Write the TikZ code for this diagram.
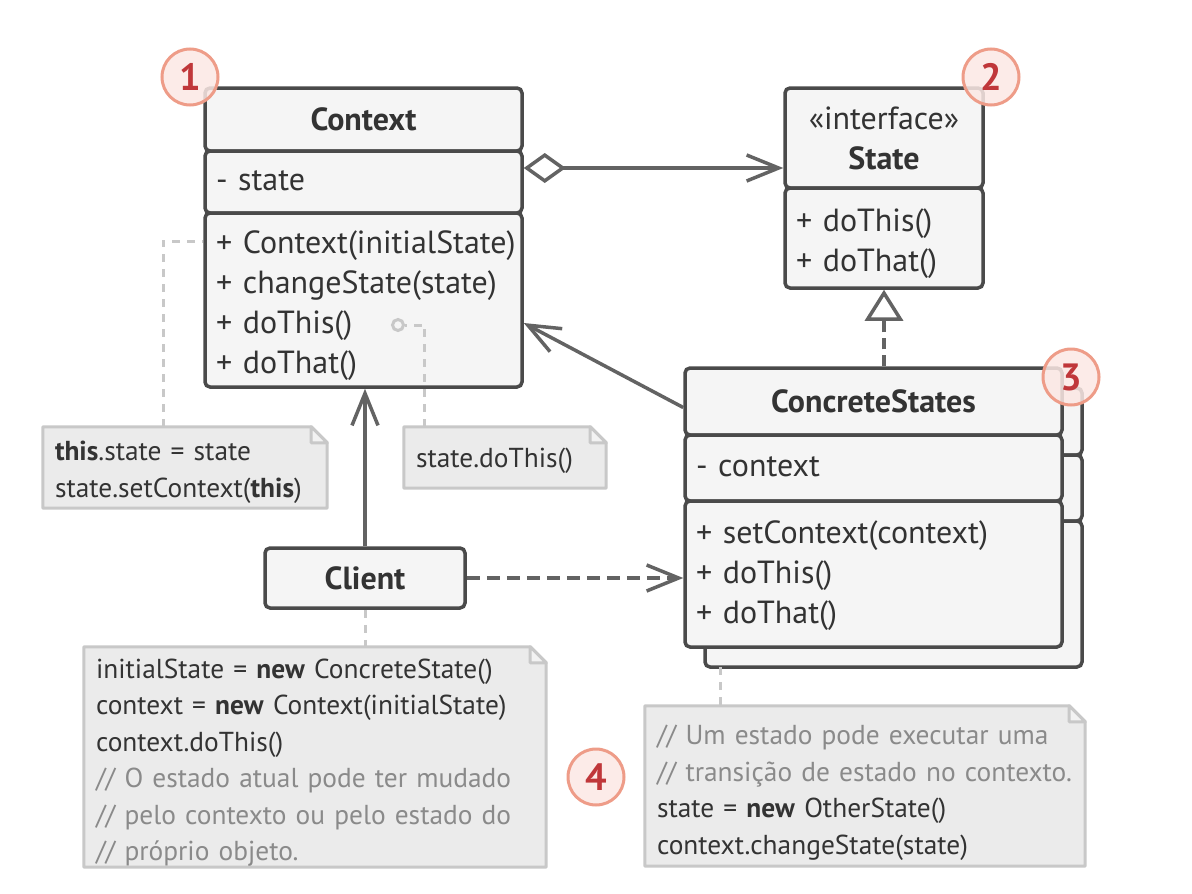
\documentclass[tikz,border=0pt]{standalone}
\usepackage{fontspec}
\setmainfont{PT Sans}
\usetikzlibrary{arrows.meta,backgrounds}
\definecolor{ln}{HTML}{4A4A4A}
\definecolor{arr}{HTML}{636363}
\definecolor{boxfill}{HTML}{F5F5F5}
\definecolor{txt}{HTML}{333333}
\definecolor{notefill}{HTML}{EBEBEB}
\definecolor{notedraw}{HTML}{C8C8C8}
\definecolor{foldfill}{HTML}{F2F2F2}
\definecolor{cmt}{HTML}{8A8A8A}
\definecolor{numfill}{HTML}{FBE8E4}
\definecolor{numdraw}{HTML}{EE9C88}
\definecolor{numtxt}{HTML}{C0373A}
\newcommand\ClsFont{\fontsize{32}{40}\selectfont}
\newcommand\NoteFont{\fontsize{27.4}{36.5}\selectfont}
\newcommand\lines[2][0pt]{\raisebox{-#1}[\height][\depth]{\begin{tabular}{@{}l@{}}#2\end{tabular}}}
\newcommand\drawnote[1]{%
  \fill[notefill] (#1.south west) -- (#1.north west) -- ([xshift=-16pt]#1.north east) -- ([yshift=-16pt]#1.north east) -- (#1.south east) -- cycle;
  \draw[notedraw, line width=3pt, line join=round] (#1.south west) -- (#1.north west) -- ([xshift=-16pt]#1.north east) -- ([yshift=-16pt]#1.north east) -- (#1.south east) -- cycle;
  \draw[notedraw, fill=foldfill, line width=3pt, line join=round] ([xshift=-16pt]#1.north east) -- ([xshift=-16pt,yshift=-16pt]#1.north east) -- ([yshift=-16pt]#1.north east) -- cycle;
}
\tikzset{
  comp/.style 2 args={draw=ln, fill=boxfill, line width=3.5pt, rounded corners=5pt,
    inner xsep=11pt, inner ysep=0pt, text width=#1, minimum height=#2,
    align=left, text=txt, font=\ClsFont},
  ttl/.style={align=center, font=\ClsFont\bfseries},
  notebox/.style 2 args={inner xsep=12pt, inner ysep=0pt, text width=#1, minimum height=#2,
    align=left, text=txt, font=\NoteFont},
  assoc/.style={draw=arr, line width=3.5pt, -{Straight Barb[length=32pt,width=26pt,line width=3.5pt]}},
  agg/.style={draw=arr, line width=3.5pt, {Diamond[open,length=42pt,width=30pt,line width=3.5pt]}-{Straight Barb[length=32pt,width=26pt,line width=3.5pt]}},
  real/.style={draw=arr, line width=3.5pt, dash pattern=on 11pt off 6pt, -{Triangle[open,length=31pt,width=38pt,line width=3.5pt,fill=white]}},
  dep/.style={draw=arr, line width=3.5pt, dash pattern=on 13pt off 7pt, -{Straight Barb[length=32pt,width=26pt,line width=3.5pt]}},
  noteline/.style={draw=notedraw, line width=3pt, dash pattern=on 8pt off 7pt},
  num/.style={circle, minimum size=56pt, inner sep=0pt, draw=numdraw, line width=3pt,
    fill=numfill, fill opacity=0.85, text opacity=1, text=numtxt,
    font=\fontsize{38}{38}\selectfont\bfseries},
  dotc/.style={circle, minimum size=11pt, inner sep=0pt, draw=notedraw, line width=3pt, fill=boxfill}
}
\begin{document}
\begin{tikzpicture}[x=1pt,y=-1pt]
\useasboundingbox (0,0) rectangle (1192,894);

% Context
\node[comp={295pt}{63pt}, ttl] (ctxH) at (363.5,119.5) {Context};
\node[comp={295pt}{62pt}] (ctxA) at (363.5,182) {\lines{- state}};
\node[comp={295pt}{174pt}] (ctxM) at (363.5,300) {\lines[5pt]{+ Context(initialState)\\+ changeState(state)\\+ doThis()\\+ doThat()}};

% State
\node[comp={176pt}{100pt}, ttl] (stH) at (884,138) {{\mdseries «interface»}\\State};
\node[comp={176pt}{100pt}] (stM) at (884,238) {\lines[5pt]{+ doThis()\\+ doThat()}};

% ConcreteStates back
\node[comp={355pt}{67pt}] (csHb) at (893.5,421.5) {};
\node[comp={355pt}{66pt}] (csAb) at (893.5,488) {};
\node[comp={355pt}{146pt}] (csMb) at (893.5,594) {};
% ConcreteStates front
\node[comp={355pt}{67pt}, ttl] (csH) at (873.5,401.5) {ConcreteStates};
\node[comp={355pt}{66pt}] (csA) at (873.5,468) {\lines{- context}};
\node[comp={355pt}{146pt}] (csM) at (873.5,574) {\lines[1.5pt]{+ setContext(context)\\+ doThis()\\+ doThat()}};

% Client
\node[comp={178pt}{60pt}, ttl] (client) at (365,578) {Client};

% Notes
\node[notebox={260pt}{81pt}] (n1) at (185,467.5) {\lines[4pt]{\textbf{this}.state = state\\state.setContext(\textbf{this})}};
\node[notebox={178pt}{61pt}] (n2) at (505,457.5) {\lines[3pt]{state.doThis()}};
\node[notebox={438pt}{220pt}] (n3) at (315,757) {\lines[5pt]{initialState = \textbf{new} ConcreteState()\\context = \textbf{new} Context(initialState)\\context.doThis()\\{\color{cmt}// O estado atual pode ter mudado}\\{\color{cmt}// pelo contexto ou pelo estado do}\\{\color{cmt}// próprio objeto.}}};
\node[notebox={416pt}{160pt}] (n4) at (865,786) {\lines[6pt]{{\color{cmt}// Um estado pode executar uma}\\{\color{cmt}// transição de estado no contexto.}\\state = \textbf{new} OtherState()\\context.changeState(state)}};
\begin{scope}[on background layer]
  \drawnote{n1}
  \drawnote{n2}
  \drawnote{n3}
  \drawnote{n4}
\end{scope}

% Connectors
\coordinate (aggS) at ([yshift=14pt]ctxA.east);
\draw[agg] (aggS) -- (aggS -| stH.west);
\draw[assoc] (client.north) -- (client.north |- ctxM.south);
\draw[assoc] ([yshift=-6pt]csH.west) -- ([yshift=-23pt]ctxM.east);
\draw[real] (csH.north -| stM.south) -- (stM.south);
\draw[dep] (client.east) -- (client.east -| csM.west);

% Note connectors
\draw[noteline] ([xshift=-22pt]n1.north) |- ([yshift=-30pt]ctxM.north west);
\node[dotc] (dot) at (398,325) {};
\draw[noteline] ([xshift=21pt]n2.north west) |- (dot.east);
\draw[noteline] (client.south) -- (client.south |- n3.north);
\coordinate (c4) at (720,667);
\draw[noteline] (c4) -- (c4 |- n4.north);

% Numbers
\node[num] (num1) at (190,77) {1};
\node[num] (num2) at (991,77) {2};
\node[num] (num3) at (1071,377) {3};
\node[num] (num4) at (596,777) {4};
\end{tikzpicture}
\end{document}
